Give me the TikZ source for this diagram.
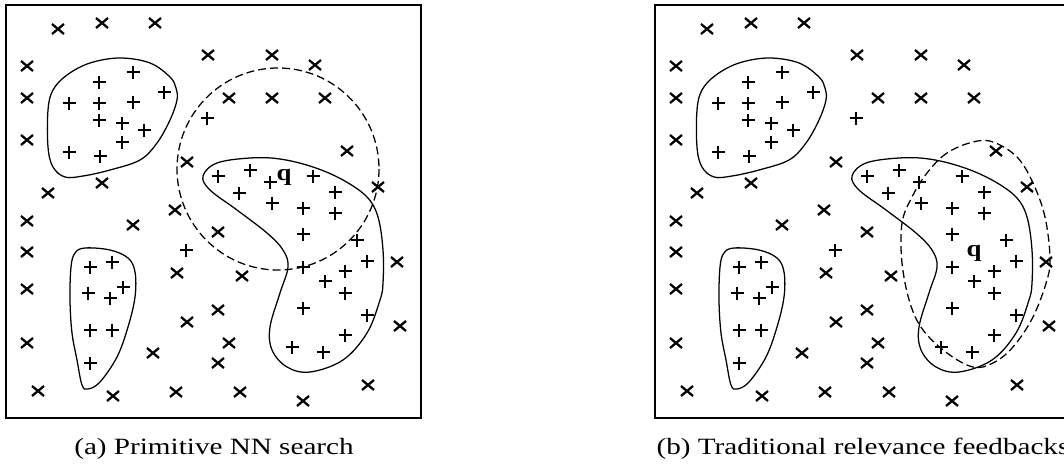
\documentclass[tikz,border=0pt]{standalone}
\usepackage{fontspec}
\setmainfont{Liberation Serif}

% marks, outlines and the query region shared by both panels
\newcommand\scatterpanel{%
  \draw[frame] (6,5) rectangle (421,418);
  % negative samples
  \foreach \px/\py in {58/29,102/23,155/23,208/55,272/55,315/65,27/66,27/98,
      229/98,272/98,325/98,27/140,347/151,187/162,102/183,48/193,378/187,
      175/210,27/221,133/225,218/232,27/252,177/273,242/276,397/262,27/289,
      218/310,187/322,400/326,27/343,229/343,153/353,218/363,38/391,113/396,
      176/392,240/392,303/401,368/385}
    \draw[cross] (\px-6,\py-5) -- (\px+6,\py+5) (\px-6,\py+5) -- (\px+6,\py-5);
  % positive samples
  \foreach \px/\py in {133/72,99/82,164/92,69/103,99/103,133/102,99/120,
      122/123,144/130,122/142,69/152,100/156,207/118,186/250,
      90/267,112/262,123/287,88/293,110/298,90/330,112/330,90/363,
      218/176,250/170,270/182,313/176,239/193,272/203,303/208,335/192,
      335/213,303/234,357/240,303/267,367/261,345/271,325/281,345/293,
      303/308,367/315,345/335,292/347,323/352}
    \draw[plus] (\px-6.5,\py) -- (\px+6.5,\py) (\px,\py-6.5) -- (\px,\py+6.5);
  % cluster outlines
  \draw[blob] plot[smooth cycle, tension=0.6] coordinates {
      (120,58) (150,63) (170,77) (176,88) (177,100) (170,120) (157,143)
      (140,160) (110,170) (83,176) (65,177) (53,167) (48,147) (48,110)
      (53,90) (67,75) (90,63)};
  \draw[blob] plot[smooth cycle, tension=0.6] coordinates {
      (85,248) (110,250) (128,258) (135,272) (135,297) (128,327) (117,357)
      (100,382) (88,389) (82,385) (77,360) (72,333) (70,300) (71,267) (75,253)};
  \draw[blob] plot[smooth cycle, tension=0.6] coordinates {
      (203,176) (217,163) (250,158) (280,159) (313,167) (343,180) (367,197)
      (378,217) (383,250) (383,283) (380,300) (367,333) (343,360) (310,372)
      (287,367) (272,350) (270,327) (280,293) (288,267) (283,250) (267,233)
      (237,210) (210,190)};
}

\begin{document}
\begin{tikzpicture}[x=0.75pt,y=-0.75pt,
  cross/.style={line width=1.7pt},
  plus/.style={line width=0.95pt},
  blob/.style={line width=0.95pt},
  ring/.style={line width=0.95pt, dash pattern=on 6pt off 3pt},
  frame/.style={line width=1.2pt},
  caption/.style={font=\fontsize{17.5}{20}\selectfont, anchor=base, inner sep=0pt},
  qlabel/.style={font=\fontsize{17.5}{20}\selectfont\bfseries, anchor=base, inner sep=0pt}]
\useasboundingbox (0,0) rectangle (1064,464);
\clip (0,0) rectangle (1064,464);

% (a) nearest-neighbour ball around q
\begin{scope}
  \scatterpanel
  \draw[ring] (278,169) circle[radius=101];
  \node[qlabel] (qA) at (284,180) {\scalebox{1.15}[1]{q}};
  \node[caption] (capA) at (214,454) {\scalebox{1.25}[1]{(a) Primitive NN search}};
\end{scope}

% (b) query region after relevance feedback
\begin{scope}[shift={(649,0)}]
  \scatterpanel
  \draw[ring] plot[smooth cycle, tension=0.6] coordinates {
      (324,142) (298,153) (278,173) (263,197) (253,223) (253,263) (261,303)
      (274,330) (298,353) (324,367) (344,363) (364,347) (384,317) (398,280)
      (401,257) (396,217) (384,183) (368,157) (344,142)};
  \node[qlabel] (qB) at (325,256) {\scalebox{1.15}[1]{q}};
  \node[caption] (capB) at (214,454) {\scalebox{1.25}[1]{(b) Traditional relevance feedbacks}};
\end{scope}
\end{tikzpicture}
\end{document}
